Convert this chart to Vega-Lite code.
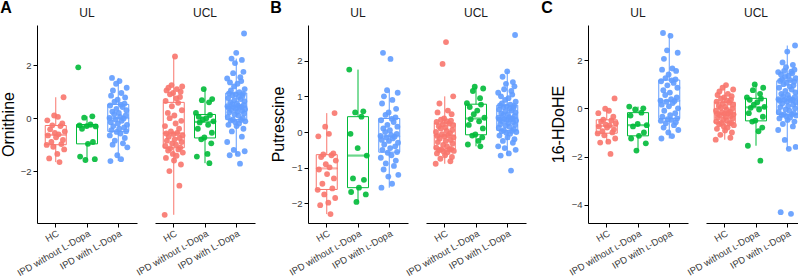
{
"$schema": "https://vega.github.io/schema/vega-lite/v6.json",
"padding": {"left": 0, "top": 0, "right": 0, "bottom": 0},
"config": {
  "font": "Liberation Sans",
  "view": {"stroke": null},
  "axis": {"grid": false, "domainColor": "#000", "tickColor": "#000", "domainWidth": 1, "tickWidth": 1, "tickSize": 4, "labelColor": "#3a3a3a", "labelFontSize": 9.5, "labelPadding": 2, "titleColor": "#000", "titleFontSize": 16, "titleFontWeight": "normal"},
  "axisX": {"labelFontSize": 9.5, "labelPadding": 1},
  "title": {"fontSize": 12, "fontWeight": "normal", "color": "#1a1a1a", "offset": 5}
},
"data": {"values": [
{"region":"UL","group":"HC","orn":-1.66,"put":-2.3,"hdohe":-1.89,"jit":0.12},
{"region":"UL","group":"HC","orn":-1.52,"put":-2.05,"hdohe":-1.42,"jit":-0.21},
{"region":"UL","group":"HC","orn":-1.35,"put":-1.98,"hdohe":-1.38,"jit":0.05},
{"region":"UL","group":"HC","orn":-1.18,"put":-1.85,"hdohe":-1.25,"jit":0.27},
{"region":"UL","group":"HC","orn":-1.08,"put":-1.75,"hdohe":-1.12,"jit":-0.08},
{"region":"UL","group":"HC","orn":-1.01,"put":-1.62,"hdohe":-1.04,"jit":-0.29},
{"region":"UL","group":"HC","orn":-0.98,"put":-1.58,"hdohe":-1.0,"jit":0.18},
{"region":"UL","group":"HC","orn":-0.9,"put":-1.45,"hdohe":-0.95,"jit":-0.14},
{"region":"UL","group":"HC","orn":-0.82,"put":-1.3,"hdohe":-0.88,"jit":0.23},
{"region":"UL","group":"HC","orn":-0.72,"put":-1.18,"hdohe":-0.8,"jit":0.01},
{"region":"UL","group":"HC","orn":-0.65,"put":-1.05,"hdohe":-0.75,"jit":-0.25},
{"region":"UL","group":"HC","orn":-0.61,"put":-0.99,"hdohe":-0.71,"jit":0.09},
{"region":"UL","group":"HC","orn":-0.56,"put":-0.9,"hdohe":-0.68,"jit":-0.03},
{"region":"UL","group":"HC","orn":-0.5,"put":-0.8,"hdohe":-0.62,"jit":0.29},
{"region":"UL","group":"HC","orn":-0.42,"put":-0.7,"hdohe":-0.55,"jit":-0.18},
{"region":"UL","group":"HC","orn":-0.3,"put":-0.65,"hdohe":-0.5,"jit":0.15},
{"region":"UL","group":"HC","orn":-0.27,"put":-0.63,"hdohe":-0.47,"jit":-0.11},
{"region":"UL","group":"HC","orn":-0.2,"put":-0.6,"hdohe":-0.35,"jit":0.21},
{"region":"UL","group":"HC","orn":-0.08,"put":-0.12,"hdohe":-0.2,"jit":-0.27},
{"region":"UL","group":"HC","orn":0.05,"put":-0.05,"hdohe":-0.1,"jit":0.07},
{"region":"UL","group":"HC","orn":0.1,"put":0.15,"hdohe":-0.02,"jit":-0.05},
{"region":"UL","group":"HC","orn":0.79,"put":0.53,"hdohe":0.41,"jit":0.25},
{"region":"UL","group":"IPD without L-Dopa","orn":-1.58,"put":-1.96,"hdohe":-1.75,"jit":-0.05},
{"region":"UL","group":"IPD without L-Dopa","orn":-1.55,"put":-1.75,"hdohe":-1.45,"jit":0.25},
{"region":"UL","group":"IPD without L-Dopa","orn":-1.45,"put":-1.68,"hdohe":-1.25,"jit":-0.22},
{"region":"UL","group":"IPD without L-Dopa","orn":-0.97,"put":-1.56,"hdohe":-1.14,"jit":0.03},
{"region":"UL","group":"IPD without L-Dopa","orn":-0.9,"put":-1.34,"hdohe":-1.0,"jit":0.19},
{"region":"UL","group":"IPD without L-Dopa","orn":-0.4,"put":-1.3,"hdohe":-0.75,"jit":-0.16},
{"region":"UL","group":"IPD without L-Dopa","orn":-0.31,"put":-0.66,"hdohe":-0.7,"jit":0.28},
{"region":"UL","group":"IPD without L-Dopa","orn":-0.3,"put":-0.45,"hdohe":-0.65,"jit":-0.01},
{"region":"UL","group":"IPD without L-Dopa","orn":-0.27,"put":-0.05,"hdohe":-0.3,"jit":-0.24},
{"region":"UL","group":"IPD without L-Dopa","orn":-0.24,"put":0.43,"hdohe":-0.18,"jit":0.11},
{"region":"UL","group":"IPD without L-Dopa","orn":0.02,"put":0.55,"hdohe":-0.05,"jit":-0.09},
{"region":"UL","group":"IPD without L-Dopa","orn":0.07,"put":0.58,"hdohe":0.0,"jit":0.17},
{"region":"UL","group":"IPD without L-Dopa","orn":1.92,"put":1.75,"hdohe":0.07,"jit":-0.28},
{"region":"UL","group":"IPD with L-Dopa","orn":-1.62,"put":-1.56,"hdohe":-1.25,"jit":-0.25},
{"region":"UL","group":"IPD with L-Dopa","orn":-1.55,"put":-1.45,"hdohe":-1.15,"jit":0.09},
{"region":"UL","group":"IPD with L-Dopa","orn":-1.4,"put":-1.25,"hdohe":-1.0,"jit":-0.03},
{"region":"UL","group":"IPD with L-Dopa","orn":-1.1,"put":-1.2,"hdohe":-0.9,"jit":0.29},
{"region":"UL","group":"IPD with L-Dopa","orn":-1.0,"put":-1.05,"hdohe":-0.8,"jit":-0.18},
{"region":"UL","group":"IPD with L-Dopa","orn":-0.95,"put":-0.95,"hdohe":-0.7,"jit":0.15},
{"region":"UL","group":"IPD with L-Dopa","orn":-0.85,"put":-0.88,"hdohe":-0.62,"jit":-0.11},
{"region":"UL","group":"IPD with L-Dopa","orn":-0.75,"put":-0.8,"hdohe":-0.58,"jit":0.21},
{"region":"UL","group":"IPD with L-Dopa","orn":-0.65,"put":-0.72,"hdohe":-0.52,"jit":-0.27},
{"region":"UL","group":"IPD with L-Dopa","orn":-0.58,"put":-0.65,"hdohe":-0.48,"jit":0.07},
{"region":"UL","group":"IPD with L-Dopa","orn":-0.52,"put":-0.58,"hdohe":-0.45,"jit":-0.05},
{"region":"UL","group":"IPD with L-Dopa","orn":-0.49,"put":-0.56,"hdohe":-0.42,"jit":0.25},
{"region":"UL","group":"IPD with L-Dopa","orn":-0.45,"put":-0.5,"hdohe":-0.35,"jit":-0.22},
{"region":"UL","group":"IPD with L-Dopa","orn":-0.4,"put":-0.45,"hdohe":-0.28,"jit":0.03},
{"region":"UL","group":"IPD with L-Dopa","orn":-0.35,"put":-0.4,"hdohe":-0.2,"jit":0.19},
{"region":"UL","group":"IPD with L-Dopa","orn":-0.3,"put":-0.35,"hdohe":-0.1,"jit":-0.16},
{"region":"UL","group":"IPD with L-Dopa","orn":-0.25,"put":-0.3,"hdohe":0.0,"jit":0.28},
{"region":"UL","group":"IPD with L-Dopa","orn":-0.2,"put":-0.25,"hdohe":0.08,"jit":-0.01},
{"region":"UL","group":"IPD with L-Dopa","orn":-0.15,"put":-0.22,"hdohe":0.15,"jit":-0.24},
{"region":"UL","group":"IPD with L-Dopa","orn":-0.1,"put":-0.18,"hdohe":0.22,"jit":0.11},
{"region":"UL","group":"IPD with L-Dopa","orn":-0.05,"put":-0.15,"hdohe":0.27,"jit":-0.09},
{"region":"UL","group":"IPD with L-Dopa","orn":-0.01,"put":-0.13,"hdohe":0.3,"jit":0.17},
{"region":"UL","group":"IPD with L-Dopa","orn":0.01,"put":-0.11,"hdohe":0.32,"jit":-0.28},
{"region":"UL","group":"IPD with L-Dopa","orn":0.05,"put":-0.08,"hdohe":0.38,"jit":0.06},
{"region":"UL","group":"IPD with L-Dopa","orn":0.1,"put":-0.05,"hdohe":0.45,"jit":0.24},
{"region":"UL","group":"IPD with L-Dopa","orn":0.15,"put":0.0,"hdohe":0.55,"jit":-0.13},
{"region":"UL","group":"IPD with L-Dopa","orn":0.2,"put":0.05,"hdohe":0.65,"jit":0.02},
{"region":"UL","group":"IPD with L-Dopa","orn":0.25,"put":0.1,"hdohe":0.75,"jit":-0.19},
{"region":"UL","group":"IPD with L-Dopa","orn":0.3,"put":0.15,"hdohe":0.85,"jit":0.26},
{"region":"UL","group":"IPD with L-Dopa","orn":0.35,"put":0.2,"hdohe":0.95,"jit":-0.06},
{"region":"UL","group":"IPD with L-Dopa","orn":0.42,"put":0.28,"hdohe":1.05,"jit":0.14},
{"region":"UL","group":"IPD with L-Dopa","orn":0.48,"put":0.33,"hdohe":1.12,"jit":-0.26},
{"region":"UL","group":"IPD with L-Dopa","orn":0.51,"put":0.37,"hdohe":1.16,"jit":0.08},
{"region":"UL","group":"IPD with L-Dopa","orn":0.55,"put":0.41,"hdohe":1.2,"jit":0.2},
{"region":"UL","group":"IPD with L-Dopa","orn":0.62,"put":0.48,"hdohe":1.25,"jit":-0.12},
{"region":"UL","group":"IPD with L-Dopa","orn":0.7,"put":0.55,"hdohe":1.4,"jit":-0.02},
{"region":"UL","group":"IPD with L-Dopa","orn":0.78,"put":0.65,"hdohe":1.55,"jit":0.22},
{"region":"UL","group":"IPD with L-Dopa","orn":0.85,"put":0.8,"hdohe":1.6,"jit":-0.23},
{"region":"UL","group":"IPD with L-Dopa","orn":0.95,"put":0.9,"hdohe":1.65,"jit":0.1},
{"region":"UL","group":"IPD with L-Dopa","orn":1.05,"put":1.0,"hdohe":2.05,"jit":-0.17},
{"region":"UL","group":"IPD with L-Dopa","orn":1.15,"put":1.1,"hdohe":2.3,"jit":0.27},
{"region":"UL","group":"IPD with L-Dopa","orn":1.3,"put":1.17,"hdohe":2.4,"jit":-0.07},
{"region":"UL","group":"IPD with L-Dopa","orn":1.4,"put":2.05,"hdohe":3.0,"jit":0.04},
{"region":"UL","group":"IPD with L-Dopa","orn":1.52,"put":2.22,"hdohe":3.12,"jit":-0.2},
{"region":"UCL","group":"HC","orn":-3.65,"put":-0.89,"hdohe":-1.3,"jit":-0.29},
{"region":"UCL","group":"HC","orn":-2.55,"put":-0.82,"hdohe":-1.22,"jit":0.18},
{"region":"UCL","group":"HC","orn":-2.0,"put":-0.75,"hdohe":-1.1,"jit":-0.14},
{"region":"UCL","group":"HC","orn":-1.75,"put":-0.7,"hdohe":-1.0,"jit":0.23},
{"region":"UCL","group":"HC","orn":-1.6,"put":-0.65,"hdohe":-0.92,"jit":0.01},
{"region":"UCL","group":"HC","orn":-1.5,"put":-0.6,"hdohe":-0.85,"jit":-0.25},
{"region":"UCL","group":"HC","orn":-1.42,"put":-0.57,"hdohe":-0.8,"jit":0.09},
{"region":"UCL","group":"HC","orn":-1.35,"put":-0.55,"hdohe":-0.75,"jit":-0.03},
{"region":"UCL","group":"HC","orn":-1.3,"put":-0.53,"hdohe":-0.7,"jit":0.29},
{"region":"UCL","group":"HC","orn":-1.22,"put":-0.51,"hdohe":-0.66,"jit":-0.18},
{"region":"UCL","group":"HC","orn":-1.18,"put":-0.49,"hdohe":-0.63,"jit":0.15},
{"region":"UCL","group":"HC","orn":-1.14,"put":-0.485,"hdohe":-0.61,"jit":-0.11},
{"region":"UCL","group":"HC","orn":-1.11,"put":-0.47,"hdohe":-0.6,"jit":0.21},
{"region":"UCL","group":"HC","orn":-1.05,"put":-0.44,"hdohe":-0.55,"jit":-0.27},
{"region":"UCL","group":"HC","orn":-1.0,"put":-0.4,"hdohe":-0.5,"jit":0.07},
{"region":"UCL","group":"HC","orn":-0.95,"put":-0.36,"hdohe":-0.46,"jit":-0.05},
{"region":"UCL","group":"HC","orn":-0.9,"put":-0.32,"hdohe":-0.42,"jit":0.25},
{"region":"UCL","group":"HC","orn":-0.85,"put":-0.28,"hdohe":-0.38,"jit":-0.22},
{"region":"UCL","group":"HC","orn":-0.8,"put":-0.25,"hdohe":-0.35,"jit":0.03},
{"region":"UCL","group":"HC","orn":-0.75,"put":-0.22,"hdohe":-0.32,"jit":0.19},
{"region":"UCL","group":"HC","orn":-0.7,"put":-0.18,"hdohe":-0.28,"jit":-0.16},
{"region":"UCL","group":"HC","orn":-0.65,"put":-0.15,"hdohe":-0.25,"jit":0.28},
{"region":"UCL","group":"HC","orn":-0.6,"put":-0.12,"hdohe":-0.23,"jit":-0.01},
{"region":"UCL","group":"HC","orn":-0.58,"put":-0.11,"hdohe":-0.22,"jit":-0.24},
{"region":"UCL","group":"HC","orn":-0.56,"put":-0.09,"hdohe":-0.2,"jit":0.11},
{"region":"UCL","group":"HC","orn":-0.5,"put":-0.06,"hdohe":-0.17,"jit":-0.09},
{"region":"UCL","group":"HC","orn":-0.4,"put":-0.03,"hdohe":-0.14,"jit":0.17},
{"region":"UCL","group":"HC","orn":-0.3,"put":0.0,"hdohe":-0.1,"jit":-0.28},
{"region":"UCL","group":"HC","orn":-0.2,"put":0.03,"hdohe":-0.06,"jit":0.06},
{"region":"UCL","group":"HC","orn":-0.1,"put":0.06,"hdohe":-0.02,"jit":0.24},
{"region":"UCL","group":"HC","orn":0.0,"put":0.1,"hdohe":0.02,"jit":-0.13},
{"region":"UCL","group":"HC","orn":0.1,"put":0.13,"hdohe":0.06,"jit":0.02},
{"region":"UCL","group":"HC","orn":0.2,"put":0.16,"hdohe":0.1,"jit":-0.19},
{"region":"UCL","group":"HC","orn":0.3,"put":0.19,"hdohe":0.15,"jit":0.26},
{"region":"UCL","group":"HC","orn":0.45,"put":0.22,"hdohe":0.2,"jit":-0.06},
{"region":"UCL","group":"HC","orn":0.58,"put":0.24,"hdohe":0.24,"jit":0.14},
{"region":"UCL","group":"HC","orn":0.65,"put":0.28,"hdohe":0.28,"jit":-0.26},
{"region":"UCL","group":"HC","orn":0.75,"put":0.3,"hdohe":0.32,"jit":0.08},
{"region":"UCL","group":"HC","orn":0.8,"put":0.32,"hdohe":0.36,"jit":0.2},
{"region":"UCL","group":"HC","orn":0.9,"put":0.35,"hdohe":0.4,"jit":-0.12},
{"region":"UCL","group":"HC","orn":0.95,"put":0.38,"hdohe":0.45,"jit":-0.02},
{"region":"UCL","group":"HC","orn":1.0,"put":0.5,"hdohe":0.5,"jit":0.22},
{"region":"UCL","group":"HC","orn":1.05,"put":0.55,"hdohe":0.55,"jit":-0.23},
{"region":"UCL","group":"HC","orn":1.1,"put":0.6,"hdohe":0.6,"jit":0.1},
{"region":"UCL","group":"HC","orn":1.15,"put":0.8,"hdohe":0.7,"jit":-0.17},
{"region":"UCL","group":"HC","orn":1.2,"put":1.0,"hdohe":0.78,"jit":0.27},
{"region":"UCL","group":"HC","orn":1.25,"put":1.91,"hdohe":0.85,"jit":-0.07},
{"region":"UCL","group":"HC","orn":2.33,"put":2.52,"hdohe":0.96,"jit":0.04},
{"region":"UCL","group":"IPD without L-Dopa","orn":-1.7,"put":-0.4,"hdohe":-2.17,"jit":0.14},
{"region":"UCL","group":"IPD without L-Dopa","orn":-1.45,"put":-0.35,"hdohe":-1.55,"jit":-0.26},
{"region":"UCL","group":"IPD without L-Dopa","orn":-1.35,"put":-0.25,"hdohe":-0.95,"jit":0.08},
{"region":"UCL","group":"IPD without L-Dopa","orn":-0.95,"put":-0.15,"hdohe":-0.8,"jit":0.2},
{"region":"UCL","group":"IPD without L-Dopa","orn":-0.8,"put":-0.1,"hdohe":-0.55,"jit":-0.12},
{"region":"UCL","group":"IPD without L-Dopa","orn":-0.73,"put":-0.07,"hdohe":-0.51,"jit":-0.02},
{"region":"UCL","group":"IPD without L-Dopa","orn":-0.55,"put":0.1,"hdohe":-0.35,"jit":0.22},
{"region":"UCL","group":"IPD without L-Dopa","orn":-0.4,"put":0.2,"hdohe":-0.2,"jit":-0.23},
{"region":"UCL","group":"IPD without L-Dopa","orn":-0.25,"put":0.3,"hdohe":-0.05,"jit":0.1},
{"region":"UCL","group":"IPD without L-Dopa","orn":-0.16,"put":0.36,"hdohe":0.02,"jit":-0.17},
{"region":"UCL","group":"IPD without L-Dopa","orn":-0.12,"put":0.4,"hdohe":0.06,"jit":0.27},
{"region":"UCL","group":"IPD without L-Dopa","orn":-0.05,"put":0.5,"hdohe":0.15,"jit":-0.07},
{"region":"UCL","group":"IPD without L-Dopa","orn":0.0,"put":0.6,"hdohe":0.25,"jit":0.04},
{"region":"UCL","group":"IPD without L-Dopa","orn":0.05,"put":0.7,"hdohe":0.35,"jit":-0.2},
{"region":"UCL","group":"IPD without L-Dopa","orn":0.12,"put":0.77,"hdohe":0.4,"jit":0.16},
{"region":"UCL","group":"IPD without L-Dopa","orn":0.2,"put":0.81,"hdohe":0.45,"jit":-0.29},
{"region":"UCL","group":"IPD without L-Dopa","orn":0.6,"put":0.95,"hdohe":0.6,"jit":0.13},
{"region":"UCL","group":"IPD without L-Dopa","orn":0.68,"put":1.15,"hdohe":0.75,"jit":-0.1},
{"region":"UCL","group":"IPD without L-Dopa","orn":0.72,"put":1.22,"hdohe":0.85,"jit":0.23},
{"region":"UCL","group":"IPD without L-Dopa","orn":1.1,"put":1.27,"hdohe":0.99,"jit":-0.04},
{"region":"UCL","group":"IPD with L-Dopa","orn":-1.72,"put":-1.08,"hdohe":-4.37,"jit":0.12},
{"region":"UCL","group":"IPD with L-Dopa","orn":-1.4,"put":-0.66,"hdohe":-4.3,"jit":-0.21},
{"region":"UCL","group":"IPD with L-Dopa","orn":-1.35,"put":-0.6,"hdohe":-1.68,"jit":0.05},
{"region":"UCL","group":"IPD with L-Dopa","orn":-1.25,"put":-0.5,"hdohe":-1.6,"jit":0.27},
{"region":"UCL","group":"IPD with L-Dopa","orn":-1.2,"put":-0.45,"hdohe":-1.31,"jit":-0.08},
{"region":"UCL","group":"IPD with L-Dopa","orn":-0.9,"put":-0.4,"hdohe":-0.9,"jit":-0.29},
{"region":"UCL","group":"IPD with L-Dopa","orn":-0.7,"put":-0.3,"hdohe":-0.75,"jit":0.18},
{"region":"UCL","group":"IPD with L-Dopa","orn":-0.5,"put":-0.25,"hdohe":-0.65,"jit":-0.14},
{"region":"UCL","group":"IPD with L-Dopa","orn":-0.4,"put":-0.2,"hdohe":-0.55,"jit":0.23},
{"region":"UCL","group":"IPD with L-Dopa","orn":-0.3,"put":-0.15,"hdohe":-0.48,"jit":0.01},
{"region":"UCL","group":"IPD with L-Dopa","orn":-0.25,"put":-0.1,"hdohe":-0.42,"jit":-0.25},
{"region":"UCL","group":"IPD with L-Dopa","orn":-0.2,"put":-0.05,"hdohe":-0.38,"jit":0.09},
{"region":"UCL","group":"IPD with L-Dopa","orn":-0.15,"put":-0.02,"hdohe":-0.33,"jit":-0.03},
{"region":"UCL","group":"IPD with L-Dopa","orn":-0.12,"put":0.0,"hdohe":-0.3,"jit":0.29},
{"region":"UCL","group":"IPD with L-Dopa","orn":-0.09,"put":0.02,"hdohe":-0.28,"jit":-0.18},
{"region":"UCL","group":"IPD with L-Dopa","orn":-0.07,"put":0.03,"hdohe":-0.26,"jit":0.15},
{"region":"UCL","group":"IPD with L-Dopa","orn":-0.05,"put":0.05,"hdohe":-0.25,"jit":-0.11},
{"region":"UCL","group":"IPD with L-Dopa","orn":0.0,"put":0.08,"hdohe":-0.2,"jit":0.21},
{"region":"UCL","group":"IPD with L-Dopa","orn":0.05,"put":0.12,"hdohe":-0.15,"jit":-0.27},
{"region":"UCL","group":"IPD with L-Dopa","orn":0.1,"put":0.15,"hdohe":-0.1,"jit":0.07},
{"region":"UCL","group":"IPD with L-Dopa","orn":0.14,"put":0.18,"hdohe":-0.05,"jit":-0.05},
{"region":"UCL","group":"IPD with L-Dopa","orn":0.18,"put":0.2,"hdohe":0.0,"jit":0.25},
{"region":"UCL","group":"IPD with L-Dopa","orn":0.22,"put":0.22,"hdohe":0.05,"jit":-0.22},
{"region":"UCL","group":"IPD with L-Dopa","orn":0.25,"put":0.25,"hdohe":0.1,"jit":0.03},
{"region":"UCL","group":"IPD with L-Dopa","orn":0.28,"put":0.28,"hdohe":0.15,"jit":0.19},
{"region":"UCL","group":"IPD with L-Dopa","orn":0.31,"put":0.3,"hdohe":0.2,"jit":-0.16},
{"region":"UCL","group":"IPD with L-Dopa","orn":0.34,"put":0.32,"hdohe":0.24,"jit":0.28},
{"region":"UCL","group":"IPD with L-Dopa","orn":0.36,"put":0.34,"hdohe":0.28,"jit":-0.01},
{"region":"UCL","group":"IPD with L-Dopa","orn":0.38,"put":0.35,"hdohe":0.31,"jit":-0.24},
{"region":"UCL","group":"IPD with L-Dopa","orn":0.4,"put":0.36,"hdohe":0.33,"jit":0.11},
{"region":"UCL","group":"IPD with L-Dopa","orn":0.42,"put":0.37,"hdohe":0.35,"jit":-0.09},
{"region":"UCL","group":"IPD with L-Dopa","orn":0.43,"put":0.38,"hdohe":0.36,"jit":0.17},
{"region":"UCL","group":"IPD with L-Dopa","orn":0.45,"put":0.4,"hdohe":0.38,"jit":-0.28},
{"region":"UCL","group":"IPD with L-Dopa","orn":0.47,"put":0.42,"hdohe":0.42,"jit":0.06},
{"region":"UCL","group":"IPD with L-Dopa","orn":0.5,"put":0.45,"hdohe":0.46,"jit":0.24},
{"region":"UCL","group":"IPD with L-Dopa","orn":0.53,"put":0.48,"hdohe":0.5,"jit":-0.13},
{"region":"UCL","group":"IPD with L-Dopa","orn":0.56,"put":0.5,"hdohe":0.55,"jit":0.02},
{"region":"UCL","group":"IPD with L-Dopa","orn":0.6,"put":0.52,"hdohe":0.6,"jit":-0.19},
{"region":"UCL","group":"IPD with L-Dopa","orn":0.64,"put":0.55,"hdohe":0.66,"jit":0.26},
{"region":"UCL","group":"IPD with L-Dopa","orn":0.68,"put":0.58,"hdohe":0.72,"jit":-0.06},
{"region":"UCL","group":"IPD with L-Dopa","orn":0.72,"put":0.6,"hdohe":0.78,"jit":0.14},
{"region":"UCL","group":"IPD with L-Dopa","orn":0.76,"put":0.63,"hdohe":0.85,"jit":-0.26},
{"region":"UCL","group":"IPD with L-Dopa","orn":0.8,"put":0.66,"hdohe":0.9,"jit":0.08},
{"region":"UCL","group":"IPD with L-Dopa","orn":0.84,"put":0.68,"hdohe":0.95,"jit":0.2},
{"region":"UCL","group":"IPD with L-Dopa","orn":0.87,"put":0.7,"hdohe":1.0,"jit":-0.12},
{"region":"UCL","group":"IPD with L-Dopa","orn":0.9,"put":0.72,"hdohe":1.05,"jit":-0.02},
{"region":"UCL","group":"IPD with L-Dopa","orn":0.92,"put":0.73,"hdohe":1.1,"jit":0.22},
{"region":"UCL","group":"IPD with L-Dopa","orn":0.94,"put":0.745,"hdohe":1.13,"jit":-0.23},
{"region":"UCL","group":"IPD with L-Dopa","orn":0.98,"put":0.77,"hdohe":1.17,"jit":0.1},
{"region":"UCL","group":"IPD with L-Dopa","orn":1.05,"put":0.8,"hdohe":1.2,"jit":-0.17},
{"region":"UCL","group":"IPD with L-Dopa","orn":1.1,"put":0.85,"hdohe":1.25,"jit":0.27},
{"region":"UCL","group":"IPD with L-Dopa","orn":1.2,"put":0.9,"hdohe":1.3,"jit":-0.07},
{"region":"UCL","group":"IPD with L-Dopa","orn":1.3,"put":0.95,"hdohe":1.35,"jit":0.04},
{"region":"UCL","group":"IPD with L-Dopa","orn":1.35,"put":1.0,"hdohe":1.4,"jit":-0.2},
{"region":"UCL","group":"IPD with L-Dopa","orn":1.4,"put":1.05,"hdohe":1.45,"jit":0.16},
{"region":"UCL","group":"IPD with L-Dopa","orn":1.5,"put":1.1,"hdohe":1.5,"jit":-0.29},
{"region":"UCL","group":"IPD with L-Dopa","orn":1.55,"put":1.15,"hdohe":1.52,"jit":0.13},
{"region":"UCL","group":"IPD with L-Dopa","orn":1.7,"put":1.2,"hdohe":1.55,"jit":-0.1},
{"region":"UCL","group":"IPD with L-Dopa","orn":1.75,"put":1.28,"hdohe":1.6,"jit":0.23},
{"region":"UCL","group":"IPD with L-Dopa","orn":2.08,"put":1.35,"hdohe":1.7,"jit":-0.04},
{"region":"UCL","group":"IPD with L-Dopa","orn":2.2,"put":1.4,"hdohe":1.8,"jit":0.18},
{"region":"UCL","group":"IPD with L-Dopa","orn":2.25,"put":1.55,"hdohe":1.9,"jit":-0.15},
{"region":"UCL","group":"IPD with L-Dopa","orn":2.47,"put":1.7,"hdohe":2.35,"jit":0.0},
{"region":"UCL","group":"IPD with L-Dopa","orn":3.2,"put":2.72,"hdohe":2.6,"jit":0.25}
]},
"spacing": 15,
"hconcat": [
 {
  "title": {"text": "A", "anchor": "start", "frame": "bounds", "fontSize": 16, "fontWeight": "bold", "color": "#000", "offset": -9},
  "bounds": "flush",
  "spacing": 18,
  "hconcat": [
   {
    "title": "UL", "width": 100, "height": 198,
    "transform": [{"filter": "datum.region === 'UL'"}],
    "encoding": {
     "x": {"field": "group", "type": "nominal", "sort": ["HC", "IPD without L-Dopa", "IPD with L-Dopa"], "scale": {"paddingInner": 0, "paddingOuter": 0.1}, "axis": {"title": null, "labelAngle": -30, "labelAlign": "right", "labelBaseline": "top"}},
     "y": {"field": "orn", "type": "quantitative", "scale": {"domain": [-3.96, 3.52], "nice": false, "zero": false}, "axis": {"title": "Ornithine", "values": [-2, 0, 2], "titlePadding": 4}},
     "color": {"field": "group", "type": "nominal", "scale": {"domain": ["HC", "IPD without L-Dopa", "IPD with L-Dopa"], "range": ["#F8766D", "#00BA38", "#619CFF"]}, "legend": null}
    },
    "layer": [
     {"mark": {"type": "boxplot", "extent": 1.5, "outliers": false, "size": 21, "ticks": false, "box": {"filled": false, "strokeWidth": 1}, "median": {"filled": false, "strokeWidth": 1}, "rule": {"strokeWidth": 1}}, "encoding": {"stroke": {"field": "group", "type": "nominal", "scale": {"domain": ["HC", "IPD without L-Dopa", "IPD with L-Dopa"], "range": ["#F8766D", "#00BA38", "#619CFF"]}, "legend": null}}},
     {"mark": {"type": "circle", "size": 34, "opacity": 0.9}, "encoding": {"xOffset": {"field": "jit", "type": "quantitative", "scale": {"domain": [-0.5, 0.5]}}}}
    ]
   },
   {
    "title": "UCL", "width": 100, "height": 198,
    "transform": [{"filter": "datum.region === 'UCL'"}],
    "encoding": {
     "x": {"field": "group", "type": "nominal", "sort": ["HC", "IPD without L-Dopa", "IPD with L-Dopa"], "scale": {"paddingInner": 0, "paddingOuter": 0.1}, "axis": {"title": null, "labelAngle": -30, "labelAlign": "right", "labelBaseline": "top", "labelExpr": "indexof(datum.label, 'without') >= 0 ? replace(datum.label, 'L-', '\u029f-') : datum.label"}},
     "y": {"field": "orn", "type": "quantitative", "scale": {"domain": [-3.96, 3.52], "nice": false, "zero": false}, "axis": null},
     "color": {"field": "group", "type": "nominal", "scale": {"domain": ["HC", "IPD without L-Dopa", "IPD with L-Dopa"], "range": ["#F8766D", "#00BA38", "#619CFF"]}, "legend": null}
    },
    "layer": [
     {"mark": {"type": "boxplot", "extent": 1.5, "outliers": false, "size": 21, "ticks": false, "box": {"filled": false, "strokeWidth": 1}, "median": {"filled": false, "strokeWidth": 1}, "rule": {"strokeWidth": 1}}, "encoding": {"stroke": {"field": "group", "type": "nominal", "scale": {"domain": ["HC", "IPD without L-Dopa", "IPD with L-Dopa"], "range": ["#F8766D", "#00BA38", "#619CFF"]}, "legend": null}}},
     {"mark": {"type": "circle", "size": 34, "opacity": 0.9}, "encoding": {"xOffset": {"field": "jit", "type": "quantitative", "scale": {"domain": [-0.5, 0.5]}}}}
    ]
   }
  ]
 },
 {
  "title": {"text": "B", "anchor": "start", "frame": "bounds", "fontSize": 16, "fontWeight": "bold", "color": "#000", "offset": -9},
  "bounds": "flush",
  "spacing": 18,
  "hconcat": [
   {
    "title": "UL", "width": 100, "height": 198,
    "transform": [{"filter": "datum.region === 'UL'"}],
    "encoding": {
     "x": {"field": "group", "type": "nominal", "sort": ["HC", "IPD without L-Dopa", "IPD with L-Dopa"], "scale": {"paddingInner": 0, "paddingOuter": 0.1}, "axis": {"title": null, "labelAngle": -30, "labelAlign": "right", "labelBaseline": "top", "labelExpr": "replace(datum.label, 'L-', '\u029f-')"}},
     "y": {"field": "put", "type": "quantitative", "scale": {"domain": [-2.55, 3.0], "nice": false, "zero": false}, "axis": {"title": "Putrescine", "values": [-2, -1, 0, 1, 2], "titlePadding": 5}},
     "color": {"field": "group", "type": "nominal", "scale": {"domain": ["HC", "IPD without L-Dopa", "IPD with L-Dopa"], "range": ["#F8766D", "#00BA38", "#619CFF"]}, "legend": null}
    },
    "layer": [
     {"mark": {"type": "boxplot", "extent": 1.5, "outliers": false, "size": 21, "ticks": false, "box": {"filled": false, "strokeWidth": 1}, "median": {"filled": false, "strokeWidth": 1}, "rule": {"strokeWidth": 1}}, "encoding": {"stroke": {"field": "group", "type": "nominal", "scale": {"domain": ["HC", "IPD without L-Dopa", "IPD with L-Dopa"], "range": ["#F8766D", "#00BA38", "#619CFF"]}, "legend": null}}},
     {"mark": {"type": "circle", "size": 34, "opacity": 0.9}, "encoding": {"xOffset": {"field": "jit", "type": "quantitative", "scale": {"domain": [-0.5, 0.5]}}}}
    ]
   },
   {
    "title": "UCL", "width": 100, "height": 198,
    "transform": [{"filter": "datum.region === 'UCL'"}],
    "encoding": {
     "x": {"field": "group", "type": "nominal", "sort": ["HC", "IPD without L-Dopa", "IPD with L-Dopa"], "scale": {"paddingInner": 0, "paddingOuter": 0.1}, "axis": {"title": null, "labelAngle": -30, "labelAlign": "right", "labelBaseline": "top"}},
     "y": {"field": "put", "type": "quantitative", "scale": {"domain": [-2.55, 3.0], "nice": false, "zero": false}, "axis": null},
     "color": {"field": "group", "type": "nominal", "scale": {"domain": ["HC", "IPD without L-Dopa", "IPD with L-Dopa"], "range": ["#F8766D", "#00BA38", "#619CFF"]}, "legend": null}
    },
    "layer": [
     {"mark": {"type": "boxplot", "extent": 1.5, "outliers": false, "size": 21, "ticks": false, "box": {"filled": false, "strokeWidth": 1}, "median": {"filled": false, "strokeWidth": 1}, "rule": {"strokeWidth": 1}}, "encoding": {"stroke": {"field": "group", "type": "nominal", "scale": {"domain": ["HC", "IPD without L-Dopa", "IPD with L-Dopa"], "range": ["#F8766D", "#00BA38", "#619CFF"]}, "legend": null}}},
     {"mark": {"type": "circle", "size": 34, "opacity": 0.9}, "encoding": {"xOffset": {"field": "jit", "type": "quantitative", "scale": {"domain": [-0.5, 0.5]}}}}
    ]
   }
  ]
 },
 {
  "title": {"text": "C", "anchor": "start", "frame": "bounds", "fontSize": 16, "fontWeight": "bold", "color": "#000", "offset": -9, "dx": -9},
  "bounds": "flush",
  "spacing": 18,
  "hconcat": [
   {
    "title": "UL", "width": 100, "height": 198,
    "transform": [{"filter": "datum.region === 'UL'"}],
    "encoding": {
     "x": {"field": "group", "type": "nominal", "sort": ["HC", "IPD without L-Dopa", "IPD with L-Dopa"], "scale": {"paddingInner": 0, "paddingOuter": 0.1}, "axis": {"title": null, "labelAngle": -30, "labelAlign": "right", "labelBaseline": "top", "labelExpr": "replace(datum.label, 'L-', '\u029f-')"}},
     "y": {"field": "hdohe", "type": "quantitative", "scale": {"domain": [-4.75, 3.45], "nice": false, "zero": false}, "axis": {"title": "16-HDoHE", "values": [-4, -2, 0, 2], "titlePadding": 5}},
     "color": {"field": "group", "type": "nominal", "scale": {"domain": ["HC", "IPD without L-Dopa", "IPD with L-Dopa"], "range": ["#F8766D", "#00BA38", "#619CFF"]}, "legend": null}
    },
    "layer": [
     {"mark": {"type": "boxplot", "extent": 1.5, "outliers": false, "size": 21, "ticks": false, "box": {"filled": false, "strokeWidth": 1}, "median": {"filled": false, "strokeWidth": 1}, "rule": {"strokeWidth": 1}}, "encoding": {"stroke": {"field": "group", "type": "nominal", "scale": {"domain": ["HC", "IPD without L-Dopa", "IPD with L-Dopa"], "range": ["#F8766D", "#00BA38", "#619CFF"]}, "legend": null}}},
     {"mark": {"type": "circle", "size": 34, "opacity": 0.9}, "encoding": {"xOffset": {"field": "jit", "type": "quantitative", "scale": {"domain": [-0.5, 0.5]}}}}
    ]
   },
   {
    "title": "UCL", "width": 100, "height": 198,
    "transform": [{"filter": "datum.region === 'UCL'"}],
    "encoding": {
     "x": {"field": "group", "type": "nominal", "sort": ["HC", "IPD without L-Dopa", "IPD with L-Dopa"], "scale": {"paddingInner": 0, "paddingOuter": 0.1}, "axis": {"title": null, "labelAngle": -30, "labelAlign": "right", "labelBaseline": "top", "labelExpr": "replace(datum.label, 'L-', '\u029f-')"}},
     "y": {"field": "hdohe", "type": "quantitative", "scale": {"domain": [-4.75, 3.45], "nice": false, "zero": false}, "axis": null},
     "color": {"field": "group", "type": "nominal", "scale": {"domain": ["HC", "IPD without L-Dopa", "IPD with L-Dopa"], "range": ["#F8766D", "#00BA38", "#619CFF"]}, "legend": null}
    },
    "layer": [
     {"mark": {"type": "boxplot", "extent": 1.5, "outliers": false, "size": 21, "ticks": false, "box": {"filled": false, "strokeWidth": 1}, "median": {"filled": false, "strokeWidth": 1}, "rule": {"strokeWidth": 1}}, "encoding": {"stroke": {"field": "group", "type": "nominal", "scale": {"domain": ["HC", "IPD without L-Dopa", "IPD with L-Dopa"], "range": ["#F8766D", "#00BA38", "#619CFF"]}, "legend": null}}},
     {"mark": {"type": "circle", "size": 34, "opacity": 0.9}, "encoding": {"xOffset": {"field": "jit", "type": "quantitative", "scale": {"domain": [-0.5, 0.5]}}}}
    ]
   }
  ]
 }
]
}
